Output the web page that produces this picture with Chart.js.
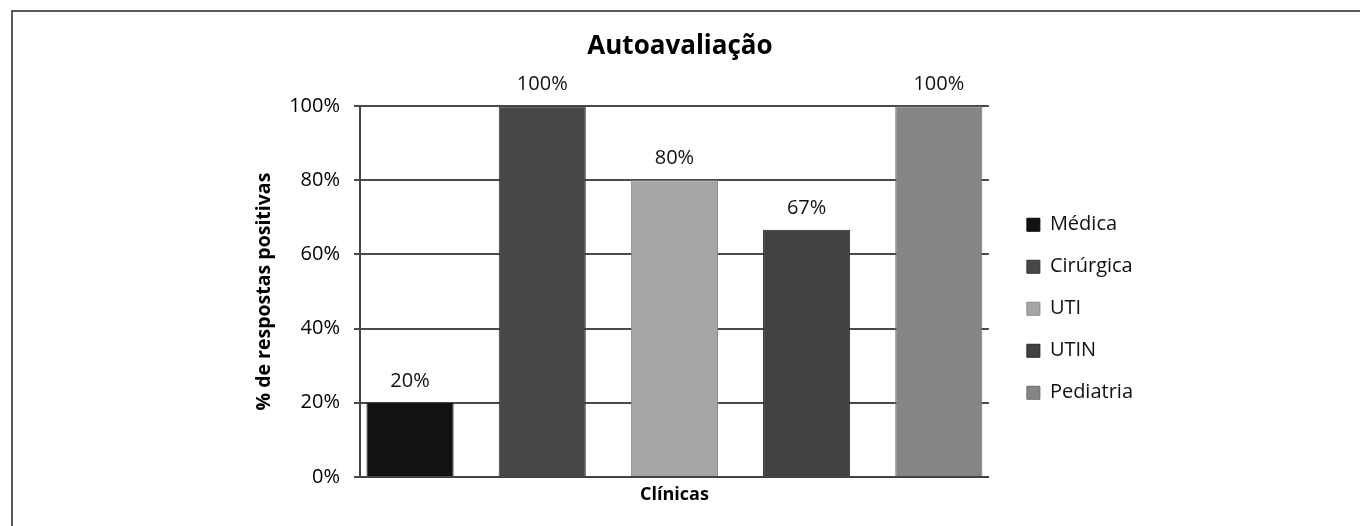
<!DOCTYPE html>
<html lang="pt">
<head>
  <meta charset="UTF-8">
  <title>Autoavaliação</title>
  <script src="https://cdn.jsdelivr.net/npm/chart.js"></script>
  <style>
    body {
      margin: 0;
      background-color: #ffffff;
      font-family: "Open Sans", sans-serif;
    }

    #frame {
      position: relative;
      width: 1360px;
      height: 526px;
      overflow: hidden;
    }

    /* moldura só em cima e à esquerda, como no original */
    #frame::before {
      content: "";
      position: absolute;
      left: 11px;
      top: 10px;
      width: 1400px;
      height: 600px;
      border-top: 2px solid #5a5a5a;
      border-left: 2px solid #5a5a5a;
      pointer-events: none;
    }
  </style>
</head>
<body>

  <div id="frame">
    <canvas id="resultChart"></canvas>
  </div>

  <script>
    const categories = ['Médica', 'Cirúrgica', 'UTI', 'UTIN', 'Pediatria'];
    const values = [20, 100, 80, 66.7, 100];
    const yTicks = [0, 20, 40, 60, 80, 100];

    const fills = ['#121212', '#474747', '#a6a6a6', '#424242', '#858585'];
    const edges = ['#0a0a0a', '#333333', '#8a8a8a', '#262626', '#6a6a6a'];

    Chart.defaults.font.family = '"Open Sans", sans-serif';
    Chart.defaults.color = '#000';

    // rótulos de valor em cima de cada barra
    const valueLabels = {
      id: 'valueLabels',
      afterDatasetsDraw(chart) {
        const ctx = chart.ctx;
        ctx.save();
        ctx.font = '20px "Open Sans", sans-serif';
        ctx.fillStyle = '#111';
        ctx.textAlign = 'center';
        ctx.textBaseline = 'alphabetic';
        chart.data.datasets.forEach((ds, i) => {
          chart.getDatasetMeta(i).data.forEach((bar, j) => {
            ctx.fillText(Math.round(ds.data[j]) + '%', bar.x, bar.y - 16);
          });
        });
        ctx.restore();
      }
    };

    // eixos vazios só para abrir espaço à direita
    function spacer(width, weight) {
      return {
        type: 'linear',
        position: 'right',
        display: true,
        weight: weight,
        grid: { display: false, drawTicks: false },
        border: { display: false },
        ticks: { display: false },
        afterFit(scale) {
          scale.width = width;
        }
      };
    }

    const ctx = document.getElementById('resultChart').getContext('2d');
    const resultChart = new Chart(ctx, {
      type: 'bar',
      data: {
        labels: [''],
        datasets: categories.map((name, i) => ({
          label: name,
          data: [values[i]],
          backgroundColor: fills[i],
          borderColor: edges[i],
          borderWidth: 1,
          categoryPercentage: 1.051,
          barPercentage: 0.659
        }))
      },
      options: {
        responsive: true,
        maintainAspectRatio: false,
        animation: false,
        layout: {
          padding: { left: 0, right: 0, top: 0, bottom: 10 }
        },
        scales: {
          x: {
            grid: { display: false, drawTicks: false },
            border: { display: true, color: '#444', width: 2 },
            ticks: { display: false },
            title: {
              display: true,
              text: 'Clínicas',
              font: { size: 18, weight: 'bold' },
              padding: { top: 7.5, bottom: 10 }
            }
          },
          y: {
            min: 0,
            max: 100,
            afterBuildTicks(scale) {
              scale.ticks = yTicks.map(v => ({ value: v }));
            },
            afterFit(scale) {
              scale.width = 360;
            },
            grid: { color: '#4a4a4a', lineWidth: 2, tickLength: 6 },
            border: { display: true, color: '#444', width: 2 },
            ticks: {
              padding: 14,
              font: { size: 20 },
              callback: v => v + '%'
            },
            title: {
              display: true,
              text: '% de respostas positivas',
              font: { size: 19.5, weight: 'bold' },
              padding: { top: 253, bottom: 0 }
            }
          },
          gapInner: spacer(16, 0),
          gapOuter: spacer(217, 3000)
        },
        plugins: {
          title: {
            display: true,
            text: 'Autoavaliação',
            font: { size: 26, weight: 'bold' },
            padding: { top: 31, bottom: 44 }
          },
          legend: {
            position: 'right',
            fullSize: false,
            title: { display: true, text: '', font: { size: 12 }, padding: 10 },
            labels: {
              boxWidth: 13,
              boxHeight: 13,
              padding: 22,
              font: { size: 20 },
              color: '#111'
            }
          },
          tooltip: { enabled: false }
        }
      },
      plugins: [valueLabels]
    });
  </script>

</body>
</html>
